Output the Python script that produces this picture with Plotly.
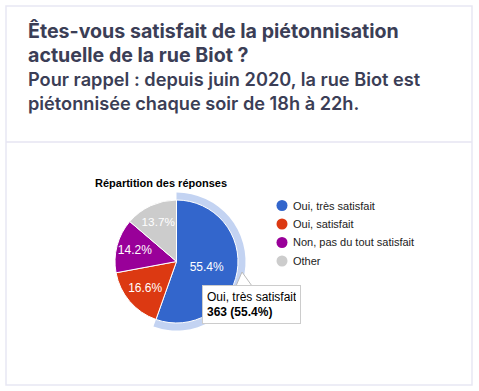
import plotly.graph_objects as go

labels = ["Oui, très satisfait", "Oui, satisfait", "Non, pas du tout satisfait", "Other"]
values = [363, 109, 93, 90]
colors = ["#3366cc", "#dc3912", "#990099", "#cccccc"]
title_lines = ["Êtes-vous satisfait de la piétonnisation",
               "actuelle de la rue Biot ?",
               "Pour rappel : depuis juin 2020, la rue Biot est",
               "piétonnisée chaque soir de 18h à 22h."]
chart_title = "Répartition des réponses"
highlight = 0

W, H = 479, 391
def px(x): return x / W
def py(y): return 1 - y / H

fig = go.Figure()

# highlight ring
ring_colors = ["rgba(0,0,0,0)"] * len(values)
ring_colors[highlight] = "#c3d3f2"
cx, cy = 176.5, 261.5
r_ring = 69
fig.add_trace(go.Pie(
    values=values, labels=labels, sort=False, direction="clockwise", rotation=0,
    hole=61 / r_ring, marker=dict(colors=ring_colors, line=dict(width=0)),
    textinfo="none", hoverinfo="skip", showlegend=False,
    domain=dict(x=[px(cx - r_ring), px(cx + r_ring)], y=[py(cy + r_ring), py(cy - r_ring)])))

r = 61.5
fig.add_trace(go.Pie(
    values=values, labels=labels, sort=False, direction="clockwise", rotation=0,
    marker=dict(colors=colors, line=dict(color="white", width=1)),
    textinfo="percent", texttemplate="%{percent:.1%}", textposition="inside",
    insidetextorientation="horizontal",
    textfont=dict(family="Arial, Liberation Sans", size=12, color="white"),
    showlegend=False,
    domain=dict(x=[px(cx - r), px(cx + r)], y=[py(cy + r), py(cy - r)])))

shapes = []
# card
shapes.append(dict(type="rect", xref="paper", yref="paper", x0=px(6), x1=px(472), y0=py(385), y1=py(6),
                   line=dict(color="#e8e7f3", width=1.5), fillcolor="rgba(0,0,0,0)", layer="below"))
shapes.append(dict(type="line", xref="paper", yref="paper", x0=px(6), x1=px(472), y0=py(142), y1=py(142),
                   line=dict(color="#e6e5f2", width=1.5)))

annotations = []
for i, t in enumerate(title_lines):
    annotations.append(dict(xref="paper", yref="paper", x=px(26), y=py(31 + i * 24), xanchor="left", yanchor="middle",
                            text=t, showarrow=False,
                            font=dict(family="Inter", size=19.6 if i < 2 else 18.2,
                                      color="#3b3e56", weight=700 if i < 2 else 600)))

annotations.append(dict(xref="paper", yref="paper", x=px(93), y=py(183), xanchor="left", yanchor="middle",
                        text="<b>" + chart_title + "</b>", showarrow=False,
                        font=dict(family="Arial, Liberation Sans", size=11, color="#000")))

# legend
leg_y0, leg_dy = 205.5, 18.5
for i, (lab, col) in enumerate(zip(labels, colors)):
    yy = leg_y0 + i * leg_dy
    shapes.append(dict(type="circle", xref="paper", yref="paper",
                       x0=px(276.5), x1=px(287.5), y0=py(yy + 5.5), y1=py(yy - 5.5),
                       fillcolor=col, line=dict(width=0)))
    annotations.append(dict(xref="paper", yref="paper", x=px(291), y=py(yy), xanchor="left", yanchor="middle",
                            text=lab, showarrow=False,
                            font=dict(family="Arial, Liberation Sans", size=11, color="#222")))

# tooltip
total = sum(values)
pct = values[highlight] / total * 100
shapes.append(dict(type="rect", xref="paper", yref="paper", x0=px(204), x1=px(301), y0=py(324), y1=py(287),
                   fillcolor="rgba(0,0,0,0.12)", line=dict(width=0)))
shapes.append(dict(type="path", xref="paper", yref="paper",
                   path=f"M {px(236)} {py(286)} L {px(242)} {py(272)} L {px(252)} {py(286)} Z",
                   fillcolor="white", line=dict(color="#bbbbbb", width=1)))
annotations.append(dict(xref="paper", yref="paper", x=px(202), y=py(285), xanchor="left", yanchor="top",
                        text=f"{labels[highlight]}<br><b>{values[highlight]} ({pct:.1f}%)</b>",
                        showarrow=False, align="left", bgcolor="white", bordercolor="#cccccc", borderwidth=1,
                        borderpad=4, width=89, height=29,
                        font=dict(family="Arial, Liberation Sans", size=12, color="#000")))

fig.update_layout(width=W, height=H, margin=dict(l=0, r=0, t=0, b=0),
                  paper_bgcolor="white", plot_bgcolor="white",
                  shapes=shapes, annotations=annotations)
fig.write_html("out.html", config={"displayModeBar": False},
               post_script="document.body.style.margin='0';document.body.style.overflow='hidden';")
